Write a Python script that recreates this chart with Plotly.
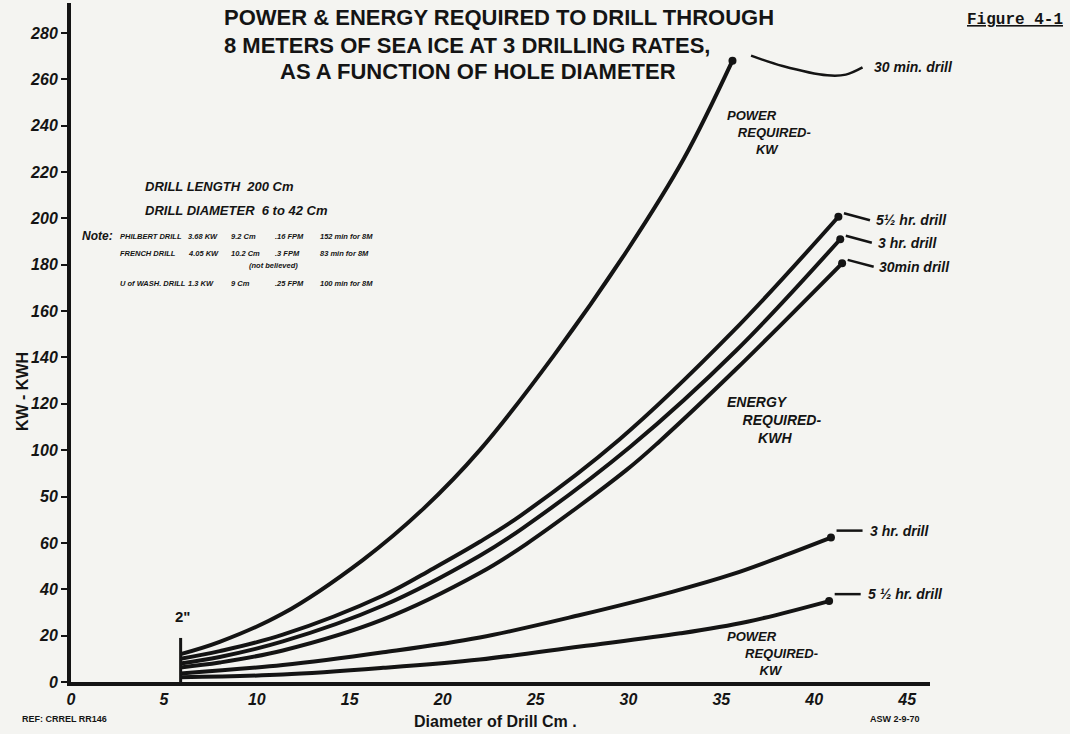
import plotly.graph_objects as go

# ---------------- data ----------------
# Power required, 30 min drill (KW)
pwr30_x = [5.9, 8.0, 11.4, 15.7, 19.0, 22.0, 26.0, 30.0, 33.0, 35.6]
pwr30_y = [12, 17.3, 29.5, 52.6, 75, 100, 141, 187, 226, 268]
# Energy required (KWH)
en55_x = [5.9, 8.0, 11.4, 16.8, 19.5, 22.0, 24.2, 29.5, 35.6, 41.3]
en55_y = [10, 13.3, 20.4, 37.3, 49.0, 60.5, 71.8, 104.5, 151, 200.7]
en3_x = [5.9, 8.0, 11.4, 16.8, 22.0, 24.3, 30.1, 35.8, 41.4]
en3_y = [8, 10.8, 17.5, 33, 54.5, 66.3, 101.5, 143, 191]
en30_x = [5.9, 8.0, 11.4, 16.8, 22.0, 24.5, 29.9, 31.7, 35.8, 41.5]
en30_y = [6.3, 8.4, 13.6, 27, 47, 59.5, 91.5, 104, 135, 180.6]
# Power required, 3 hr and 5 1/2 hr drills (KW)
pwr3_x = [5.9, 11.4, 16.8, 22.0, 27.4, 32.4, 35.6, 38.2, 40.9]
pwr3_y = [3.7, 7.3, 12.8, 19.2, 28.9, 39, 46.5, 54, 62.3]
pwr55_x = [5.9, 11.4, 16.8, 22.0, 27.4, 32.8, 36.4, 40.8]
pwr55_y = [2, 3.2, 6.1, 9.7, 15.3, 21, 26, 34.9]

# 2 inch marker
two_inch_x = 5.9
two_inch_top = 19

x_tick_vals = [0, 5, 10, 15, 20, 25, 30, 35, 40, 45]
x_tick_text = ["0", "5", "10", "15", "20", "25", "30", "35", "40", "45"]
y_tick_vals = [0, 20, 40, 60, 80, 100, 120, 140, 160, 180, 200, 220, 240, 260, 280]
y_tick_text = ["0", "20", "40", "60", "50", "100", "120", "140", "160", "180",
               "200", "220", "240", "260", "280"]

curve_labels_energy = ["5½ hr. drill", "3 hr. drill", "30min drill"]
curve_labels_power = ["3 hr. drill", "5 ½ hr. drill"]

note_rows = [
    ["PHILBERT DRILL", "3.68 KW", "9.2 Cm", ".16 FPM", "152 min for 8M"],
    ["FRENCH DRILL", "4.05 KW", "10.2 Cm", ".3 FPM", "83 min for 8M"],
    ["U of WASH. DRILL", "1.3 KW", "9 Cm", ".25 FPM", "100 min for 8M"],
]

# ---------------- layout constants ----------------
W, H = 1070, 734
L, R, T, B = 71, 140, 3, 52
PW, PH = W - L - R, H - T - B
INK = "#141414"
PAPER = "#f4f4f1"
X_MAX = 46.23
Y_MAX = 292.9

HAND = "Liberation Sans, Arial, sans-serif"
NB = "&nbsp;"


def fx(px):
    return (px - L) / PW


def fy(py):
    return (H - B - py) / PH


fig = go.Figure()


def add_curve(xs, ys):
    fig.add_trace(go.Scatter(
        x=xs, y=ys, mode="lines",
        line=dict(color=INK, width=4, shape="spline", smoothing=1.0),
        hoverinfo="skip", showlegend=False))
    fig.add_trace(go.Scatter(
        x=[xs[-1]], y=[ys[-1]], mode="markers",
        marker=dict(color=INK, size=8), hoverinfo="skip", showlegend=False))


for xs, ys in [(pwr30_x, pwr30_y), (en55_x, en55_y), (en3_x, en3_y),
               (en30_x, en30_y), (pwr3_x, pwr3_y), (pwr55_x, pwr55_y)]:
    add_curve(xs, ys)

# 2" vertical marker
fig.add_trace(go.Scatter(x=[two_inch_x, two_inch_x], y=[0, two_inch_top], mode="lines",
                         line=dict(color=INK, width=3), hoverinfo="skip", showlegend=False))


def leader(xs, ys):
    fig.add_trace(go.Scatter(x=xs, y=ys, mode="lines",
                             line=dict(color=INK, width=2.5, shape="spline"),
                             hoverinfo="skip", showlegend=False))


annotations = []


def text_data(x, y, s, size, anchor="left", italic=True):
    annotations.append(dict(
        x=x, y=y, xref="x", yref="y", text=s, showarrow=False,
        xanchor=anchor, yanchor="middle",
        font=dict(family=HAND, size=size, color=INK, weight="bold",
                  style="italic" if italic else "normal")))


def text_px(px, py, s, size, anchor="left", italic=True, angle=0, align="left",
            yanchor="middle"):
    annotations.append(dict(
        x=fx(px), y=fy(py), xref="paper", yref="paper", text=s, showarrow=False,
        xanchor=anchor, yanchor=yanchor, textangle=angle, align=align,
        font=dict(family=HAND, size=size, color=INK, weight="bold",
                  style="italic" if italic else "normal")))


# top power curve leader (wavy) and label
ex, ey = pwr30_x[-1], pwr30_y[-1]
leader([ex + 1.0, ex + 2.7, ex + 5.1, ex + 6.1, ex + 7.0],
       [ey + 2.2, ey - 2.3, ey - 6.3, ey - 6.0, ey - 2.9])
text_data(ex + 7.5, ey - 2.9, "30 min. drill", 14)

# energy curve leaders / labels
for xs, ys, lab in [(en55_x, en55_y, curve_labels_energy[0]),
                    (en3_x, en3_y, curve_labels_energy[1]),
                    (en30_x, en30_y, curve_labels_energy[2])]:
    ex, ey = xs[-1], ys[-1]
    leader([ex + 0.3, ex + 1.7], [ey + 1.5, ey - 1.5])
    text_data(ex + 1.9, ey - 1.5, lab, 14)

# low power curve leaders / labels
for xs, ys, lab in [(pwr3_x, pwr3_y, curve_labels_power[0]),
                    (pwr55_x, pwr55_y, curve_labels_power[1])]:
    ex, ey = xs[-1], ys[-1]
    leader([ex + 0.3, ex + 1.7], [ey + 3, ey + 3])
    text_data(ex + 2.0, ey + 3, lab, 14)

# 2" label
text_px(182, 616, '2"', 15, anchor="center", italic=False)

# group labels (three staggered lines each)
text_px(725, 106, "POWER<br>" + NB * 3 + "REQUIRED-<br>" + NB * 8 + "KW", 13,
        yanchor="top")
text_px(725, 392, "ENERGY<br>" + NB * 4 + "REQUIRED-<br>" + NB * 8 + "KWH", 14,
        yanchor="top")
text_px(725, 627, "POWER<br>" + NB * 5 + "REQUIRED-<br>" + NB * 9 + "KW", 13,
        yanchor="top")

# title
text_px(222, 17, "POWER &amp; ENERGY REQUIRED TO DRILL THROUGH", 22, italic=False)
text_px(222, 45, "8 METERS OF SEA ICE AT 3 DRILLING RATES,", 22, italic=False)
text_px(478, 72, "AS A FUNCTION OF HOLE DIAMETER", 22, anchor="center", italic=False)

# figure number
annotations.append(dict(
    x=fx(1065), y=fy(20), xref="paper", yref="paper", text="<u>Figure 4-1</u>",
    showarrow=False, xanchor="right", yanchor="middle",
    font=dict(family="Liberation Mono, Courier New, monospace", size=16, color=INK,
              weight="bold")))

# drill info
text_px(143, 186, "DRILL LENGTH  200 Cm", 13)
text_px(143, 210, "DRILL DIAMETER  6 to 42 Cm", 13)

# note block
text_px(80, 236, "Note:", 12)
col_px = [118, 186, 229, 273, 318]
row_py = [236, 253, 283]
for r, row in enumerate(note_rows):
    for c, s in enumerate(row):
        text_px(col_px[c], row_py[r], s, 7.5)
text_px(247, 265, "(not believed)", 7.5)

# axis titles and footer
text_px(22, 392, "KW - KWH", 16, anchor="center", italic=False, angle=-90)
text_px(412, 721, "Diameter of Drill Cm .", 16, italic=False)
text_px(20, 719, "REF: CRREL RR146", 9, italic=False)
text_px(868, 719, "ASW 2-9-70", 9, italic=False)

fig.update_layout(
    width=W, height=H,
    margin=dict(l=L, r=R, t=T, b=B),
    paper_bgcolor=PAPER, plot_bgcolor=PAPER,
    showlegend=False,
    annotations=annotations,
    xaxis=dict(range=[0, X_MAX], showline=True, linewidth=4, linecolor=INK,
               tickvals=x_tick_vals, ticktext=x_tick_text, ticks="",
               showgrid=False, zeroline=False, fixedrange=True,
               tickfont=dict(family=HAND, size=16, color=INK, weight="bold", style="italic")),
    yaxis=dict(range=[0, Y_MAX], showline=True, linewidth=4, linecolor=INK,
               tickvals=y_tick_vals, ticktext=y_tick_text, ticks="outside",
               ticklen=6, tickwidth=2, tickcolor=INK,
               showgrid=False, zeroline=False, fixedrange=True,
               tickfont=dict(family=HAND, size=16, color=INK, weight="bold", style="italic")),
)

fig.write_html("out.html",
               config={"displayModeBar": False},
               post_script="document.body.style.margin='0';"
                           "document.body.style.background='" + PAPER + "';")
